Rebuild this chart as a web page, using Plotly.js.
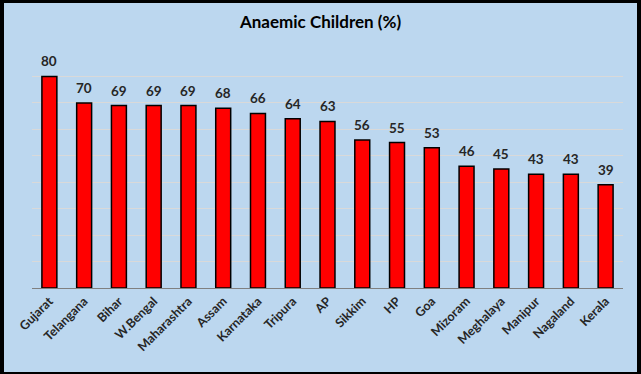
<!DOCTYPE html>
<html>
<head>
<meta charset="utf-8">
<script src="https://cdn.plot.ly/plotly-3.0.1.min.js"></script>
<style>
html,body{margin:0;padding:0;background:#000;}
#frame{position:absolute;left:0;top:0;width:641px;height:374px;background:#000;}
#chart{position:absolute;left:4px;top:3px;width:633px;height:369px;}
</style>
</head>
<body>
<div id="frame"><div id="chart"></div></div>
<script>
const states = ["Gujarat","Telangana","Bihar","W.Bengal","Maharashtra","Assam","Karnataka","Tripura","AP","Sikkim","HP","Goa","Mizoram","Meghalaya","Manipur","Nagaland","Kerala"];
const anaemic = [80,70,69,69,69,68,66,64,63,56,55,53,46,45,43,43,39];

const fontFam = "Lato, 'Open Sans', sans-serif";
const trace = {
  type: "bar",
  x: states,
  y: anaemic,
  marker: {color: "#FF0000", line: {color: "#000000", width: 1.5}},
  hoverinfo: "x+y"
};
const labels = states.map((s, i) => ({
  x: s, y: anaemic[i], xref: "x", yref: "y",
  text: "<b>" + anaemic[i] + "</b>", showarrow: false,
  yanchor: "bottom", yshift: 5,
  font: {family: fontFam, size: 13.5, color: "#262626"}
}));
const layout = {
  width: 633, height: 369,
  margin: {l: 28, r: 14, t: 47, b: 84},
  paper_bgcolor: "#BCD7EF",
  plot_bgcolor: "#BCD7EF",
  bargap: 0.57,
  showlegend: false,
  annotations: labels,
  title: {text: "<b>Anaemic Children (%)</b>", x: 0.5, xanchor: "center", y: 1 - 19/369, yanchor: "middle",
          font: {family: fontFam, size: 17, color: "#000000"}},
  xaxis: {
    tickangle: -45,
    tickfont: {family: fontFam, size: 12.5, color: "#262626", weight: 700},
    showline: true, linecolor: "#808080", linewidth: 1,
    ticks: "", showgrid: false
  },
  yaxis: {
    range: [0, 90], dtick: 10,
    showticklabels: false, ticks: "",
    showgrid: true, gridcolor: "#D9D9D9", gridwidth: 1.2,
    zeroline: false, showline: false
  }
};
Plotly.newPlot("chart", [trace], layout, {displayModeBar: false});
</script>
</body>
</html>
